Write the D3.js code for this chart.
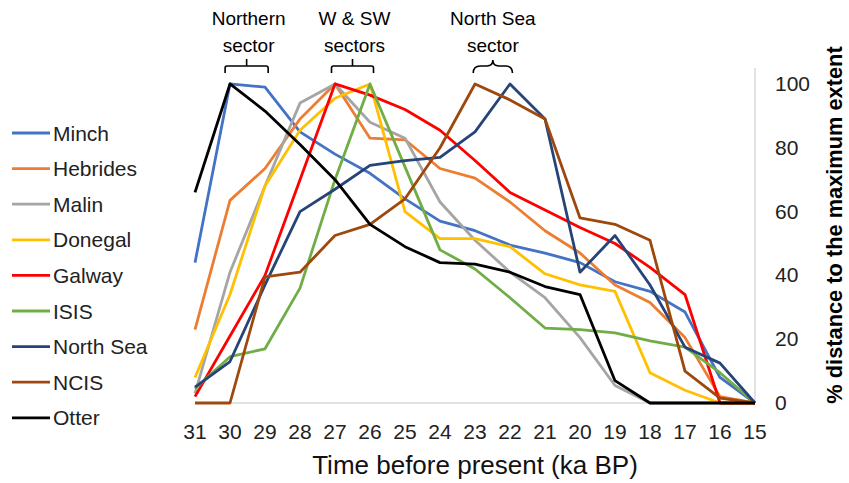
<!DOCTYPE html>
<html>
<head>
<meta charset="utf-8">
<script src="https://cdn.jsdelivr.net/npm/d3@7"></script>
<style>
  body { margin: 0; background: #fff; }
  svg { font-family: "Liberation Sans", Arial, sans-serif; }
</style>
</head>
<body>
<div id="chart"></div>
<script>
// Data
let years = [31, 30, 29, 28, 27, 26, 25, 24, 23, 22, 21, 20, 19, 18, 17, 16, 15];

let minch    = [44, 100, 99, 85, 78, 72, 64, 57, 54, 49.5, 47, 44, 38, 35, 28.5, 8, 0];
let hebrides = [23, 63.5, 73.5, 89, 100, 83, 82.5, 73.5, 70.5, 63, 54, 47, 37, 31.5, 20.5, 2, 0];
let malin    = [3, 41, 68, 94, 100, 88, 83, 63, 51, 41, 33, 20.5, 5.5, 0, 0, 0, 0];
let donegal  = [8, 34, 68, 85.5, 95.5, 100, 60, 51.5, 51.5, 49, 40.5, 37, 35, 9.5, 4, 0, 0];
let galway   = [2, 21, 40, 70, 100, 96.5, 92, 85.5, 76, 66, 60.5, 55, 50, 42.5, 34, 0, 0];
let isis     = [4.5, 14.5, 17, 36, 70, 100, 74, 48, 42, 33, 23.5, 23, 22, 19.5, 17.5, 9.5, 0];
let northSea = [5, 13, 37, 60, 67, 74.5, 76, 77, 85, 100, 89, 41, 52.5, 37, 17.5, 12.5, 0];
let ncis     = [0, 0, 39.5, 41, 52.5, 56, 64, 80, 100, 95, 89, 58, 56, 51, 10, 1.5, 0];
let otter    = [66, 100, 91.5, 81, 70, 56, 49, 44, 43.5, 41, 36.5, 34, 7, 0, 0, 0, 0];

let names  = ["Minch", "Hebrides", "Malin", "Donegal", "Galway", "ISIS", "North Sea", "NCIS", "Otter"];
let series = [minch, hebrides, malin, donegal, galway, isis, northSea, ncis, otter];
let colors = ["#4472C4", "#ED7D31", "#A5A5A5", "#FFC000", "#FF0000", "#70AD47", "#264478", "#9E480E", "#000000"];

let yTicks = [0, 20, 40, 60, 80, 100];

// sector brackets: label lines and the ka span they cover
let sectors = [
    { lines: ["Northern", "sector"], from: 30.14, to: 28.91, curly: false },
    { lines: ["W & SW", "sectors"], from: 27.1, to: 25.9, curly: false },
    { lines: ["North Sea", "sector"], from: 23.05, to: 21.93, curly: true }
];

// Set dimensions
let width = 849,
    height = 483;

let svg = d3.select("#chart")
    .append("svg")
        .attr("width", width)
        .attr("height", height);

let x = d3.scaleLinear().domain([31, 15]).range([195, 755]);
let y = d3.scaleLinear().domain([0, 105]).range([403, 68]);

// Axis lines
svg.append("line")
    .attr("x1", x(31)).attr("x2", x(15))
    .attr("y1", y(0)).attr("y2", y(0))
    .attr("stroke", "#D9D9D9").attr("stroke-width", 1.5);

svg.append("line")
    .attr("x1", x(15)).attr("x2", x(15))
    .attr("y1", y(0)).attr("y2", y(105))
    .attr("stroke", "#D9D9D9").attr("stroke-width", 1.5);

// X tick labels
svg.append("g")
    .selectAll("text")
    .data(years)
    .join("text")
        .attr("x", d => x(d))
        .attr("y", 439)
        .attr("text-anchor", "middle")
        .attr("font-size", 21)
        .attr("fill", "#222")
        .text(d => d);

// Y tick labels (right side)
svg.append("g")
    .selectAll("text")
    .data(yTicks)
    .join("text")
        .attr("x", 775)
        .attr("y", d => y(d) + 7)
        .attr("font-size", 21)
        .attr("fill", "#222")
        .text(d => d);

// Axis titles
svg.append("text")
    .attr("x", 475)
    .attr("y", 474)
    .attr("text-anchor", "middle")
    .attr("font-size", 26)
    .attr("fill", "#111")
    .text("Time before present (ka BP)");

svg.append("text")
    .attr("transform", "translate(842,225) rotate(-90)")
    .attr("text-anchor", "middle")
    .attr("font-size", 21.8)
    .attr("font-weight", "bold")
    .attr("fill", "#000")
    .text("% distance to the maximum extent");

// Lines
let line = d3.line()
    .x((d, i) => x(years[i]))
    .y(d => y(d));

svg.append("g")
    .selectAll("path")
    .data(series)
    .join("path")
        .attr("d", d => line(d))
        .attr("fill", "none")
        .attr("stroke", (d, i) => colors[i])
        .attr("stroke-width", 2.8)
        .attr("stroke-linejoin", "round");

// Legend
let legend = svg.append("g")
    .selectAll("g")
    .data(names)
    .join("g")
        .attr("transform", (d, i) => `translate(12, ${133 + i * 35.6})`);

legend.append("line")
    .attr("x1", 0).attr("x2", 38)
    .attr("stroke", (d, i) => colors[i])
    .attr("stroke-width", 2.8);

legend.append("text")
    .attr("x", 41)
    .attr("y", 7.5)
    .attr("font-size", 21)
    .attr("fill", "#222")
    .text(d => d);

// Sector brackets
let ann = svg.append("g");
sectors.forEach(s => {
    let x0 = x(s.from), x1 = x(s.to), xm = (x0 + x1) / 2;
    let path;
    if (s.curly) {
        path = `M${x0},73 Q${x0},66 ${x0 + 7},66 L${xm - 6},66 Q${xm},66 ${xm},60 Q${xm},66 ${xm + 6},66 L${x1 - 7},66 Q${x1},66 ${x1},73`;
    } else {
        path = `M${x0},73 L${x0},68 Q${x0},66 ${x0 + 2},66 L${x1 - 2},66 Q${x1},66 ${x1},68 L${x1},73 M${xm},66 L${xm},59`;
    }
    ann.append("path")
        .attr("d", path)
        .attr("fill", "none")
        .attr("stroke", "#000")
        .attr("stroke-width", 1.6);

    s.lines.forEach((t, j) => {
        ann.append("text")
            .attr("x", xm + (s.curly ? 0 : 2))
            .attr("y", 25 + j * 27)
            .attr("text-anchor", "middle")
            .attr("font-size", 19)
            .attr("fill", "#000")
            .text(t);
    });
});
</script>
</body>
</html>
